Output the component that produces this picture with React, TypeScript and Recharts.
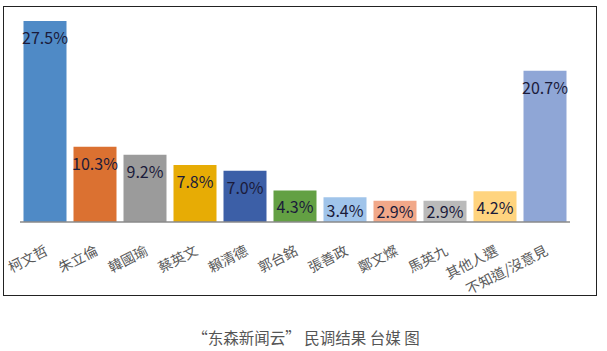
import { BarChart, Bar, XAxis, YAxis, Cell, LabelList } from 'recharts';

const candidates = ['柯文哲', '朱立倫', '韓國瑜', '蔡英文', '賴清德', '郭台銘', '張善政', '鄭文燦', '馬英九', '其他人選', '不知道/沒意見'];
const support = [27.5, 10.3, 9.2, 7.8, 7.0, 4.3, 3.4, 2.9, 2.9, 4.2, 20.7];
const barColors = ['#4f8ac6', '#db7131', '#9b9b9b', '#e7ac05', '#3c5fa7', '#63a043', '#a0c4ea', '#f1a889', '#bababa', '#ffd47f', '#8fa6d6'];

const data = candidates.map((name, i) => ({ name, value: support[i] }));

const CJK = '"Noto Sans CJK TC", "Noto Sans CJK SC", sans-serif';

function NameTick(props: any) {
  const { x, y, payload } = props;
  return (
    <g transform={`translate(${x + 4},${y + 24})`}>
      <text transform="rotate(-27)" textAnchor="end" fontSize={14} fill="#595959" fontFamily={CJK}>
        {payload.value}
      </text>
    </g>
  );
}

function ValueLabel(props: any) {
  const { x, y, width, height, value } = props;
  return (
    <text
      x={x + width / 2}
      y={y + Math.min(16, height / 2)}
      textAnchor="middle"
      dominantBaseline="central"
      fontSize={16}
      fill="#1b1b3a"
      fontFamily={CJK}
    >
      {Number(value).toFixed(1)}%
    </text>
  );
}

export default function App() {
  return (
    <div style={{ position: 'absolute', left: 0, top: 0, width: 607, height: 351, background: '#fff' }}>
      <div
        style={{
          position: 'absolute',
          left: 3,
          top: 6,
          width: 592,
          height: 288,
          border: '1.5px solid #222',
        }}
      />
      <div style={{ position: 'absolute', left: 0, top: 0 }}>
        <BarChart
          width={607}
          height={300}
          data={data}
          margin={{ top: 21, right: 37, left: 20, bottom: 18 }}
          barCategoryGap="7%"
        >
          <XAxis
            dataKey="name"
            interval={0}
            height={60}
            tickLine={false}
            axisLine={{ stroke: '#8a8a8a', strokeWidth: 1.5 }}
            tick={<NameTick />}
          />
          <YAxis hide domain={[0, 27.5]} />
          <Bar dataKey="value" isAnimationActive={false}>
            {data.map((d, i) => (
              <Cell key={d.name} fill={barColors[i]} />
            ))}
            <LabelList dataKey="value" content={<ValueLabel />} />
          </Bar>
        </BarChart>
      </div>
      <div
        style={{
          position: 'absolute',
          left: 0,
          width: 612,
          top: 326,
          textAlign: 'center',
          fontSize: 15.5,
          color: '#555',
          fontFamily: '"Noto Sans CJK SC", sans-serif',
        }}
      >
        “东森新闻云”&nbsp;民调结果 台媒 图
      </div>
    </div>
  );
}
